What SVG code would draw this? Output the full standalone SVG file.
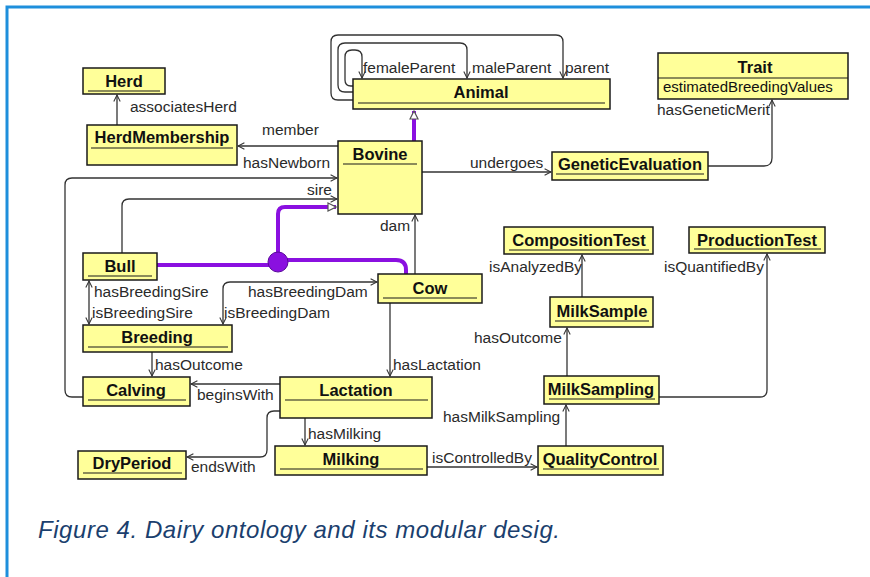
<svg xmlns="http://www.w3.org/2000/svg" width="870" height="577" viewBox="0 0 870 577">
<defs>
<style>
.box{fill:#ffff99;stroke:#1a1a1a;stroke-width:1.5}
.ul{stroke:#1a1a1a;stroke-width:1.2}
.t{font-family:"Liberation Sans",Arial,sans-serif;font-weight:bold;font-size:16.5px;fill:#111;text-anchor:middle}
.a{font-family:"Liberation Sans",Arial,sans-serif;font-size:15px;fill:#111}
.lb{font-family:"Liberation Sans",Arial,sans-serif;font-size:15.5px;fill:#2a2a2a}
.c{fill:none;stroke:#333;stroke-width:1.3;marker-end:url(#open)}
.c2{fill:none;stroke:#333;stroke-width:1.3;marker-end:url(#open);marker-start:url(#open)}
.p{fill:none;stroke:#8a10e0;stroke-width:4}
.pi{fill:none;stroke:#8a10e0;stroke-width:4;marker-end:url(#tri)}
</style>
<marker id="open" viewBox="0 0 10 10" refX="9" refY="5" markerWidth="8" markerHeight="8" markerUnits="userSpaceOnUse" orient="auto-start-reverse">
<path d="M1,1 L9,5 L1,9" fill="none" stroke="#333" stroke-width="1.3"/>
</marker>
<marker id="tri" viewBox="0 0 10 10" refX="9" refY="5" markerWidth="10" markerHeight="10" markerUnits="userSpaceOnUse" orient="auto">
<path d="M1,1 L9,5 L1,9 z" fill="#fff" stroke="#555" stroke-width="1.2"/>
</marker>
</defs>
<rect x="0" y="0" width="870" height="577" fill="#fff"/>
<rect x="7" y="7" width="900" height="620" fill="none" stroke="#1e8fdc" stroke-width="3"/>

<g id="connectors">
<path class="c" d="M117,125 L117,95"/>
<path class="c" d="M338,146 L238,146"/>
<path class="c" d="M83,397 L72,397 Q65,397 65,390 L65,185 Q65,178 72,178 L337,178"/>
<path class="c" d="M122,253 L122,206 Q122,199 129,199 L337,199"/>
<path class="c" d="M422,172 L551,172"/>
<path class="c" d="M708,166 L764,166 Q772,166 772,158 L772,100"/>
<path class="c" d="M415,274 L415,215"/>
<path class="c" d="M390,303 L390,376"/>
<path class="c2" d="M89,281 L89,324"/>
<path class="c2" d="M377,282 L230,282 Q223,282 223,289 L223,324"/>
<path class="c" d="M152,352 L152,376"/>
<path class="c" d="M280,384 L191,384"/>
<path class="c" d="M280,411 L274,411 Q267,411 267,418 L267,450 Q267,457 260,457 L187,457"/>
<path class="c" d="M305,418 L305,445"/>
<path class="c" d="M427,467 L537,467"/>
<path class="c" d="M566,446 L566,405"/>
<path class="c" d="M567,376 L567,328"/>
<path class="c" d="M582,297 L582,255"/>
<path class="c" d="M659,397 L760,397 Q767,397 767,390 L767,254"/>
<path class="c" d="M353,100 L338,100 Q331,100 331,93 L331,42 Q331,35 338,35 L556,35 Q563,35 563,42 L563,78"/>
<path class="c" d="M353,92 L345,92 Q338,92 338,85 L338,50 Q338,43 345,43 L460,43 Q467,43 467,50 L467,78"/>
<path class="c" d="M353,86 L351,86 Q345,86 345,80 L345,57 Q345,50 352,50 L355,50 Q362,50 362,57 L362,78"/>
<path class="pi" d="M414,141 L414,111"/>
<path class="p" d="M157,265 L270,265"/>
<path class="pi" d="M278,255 L278,214 Q278,207 285,207 L336,207"/>
<path class="p" d="M285,260 L396,260 Q406,260 406,270 L406,274"/>
<circle cx="278" cy="262" r="10" fill="#8a10e0" stroke="#5a0a9a" stroke-width="1"/>
<text class="lb" x="130" y="112">associatesHerd</text>
<text class="lb" x="262" y="135">member</text>
<text class="lb" x="243" y="168">hasNewborn</text>
<text class="lb" x="307" y="195">sire</text>
<text class="lb" x="380" y="231">dam</text>
<text class="lb" x="470" y="168">undergoes</text>
<text class="lb" x="657" y="115">hasGeneticMerit</text>
<text class="lb" x="363" y="73">femaleParent</text>
<text class="lb" x="472" y="73">maleParent</text>
<text class="lb" x="565" y="73">parent</text>
<text class="lb" x="94" y="297">hasBreedingSire</text>
<text class="lb" x="92" y="318">isBreedingSire</text>
<text class="lb" x="248" y="297">hasBreedingDam</text>
<text class="lb" x="224" y="318">isBreedingDam</text>
<text class="lb" x="155" y="370">hasOutcome</text>
<text class="lb" x="197" y="400">beginsWith</text>
<text class="lb" x="191" y="472">endsWith</text>
<text class="lb" x="393" y="370">hasLactation</text>
<text class="lb" x="308" y="439">hasMilking</text>
<text class="lb" x="432" y="463">isControlledBy</text>
<text class="lb" x="443" y="422">hasMilkSampling</text>
<text class="lb" x="474" y="343">hasOutcome</text>
<text class="lb" x="489" y="272">isAnalyzedBy</text>
<text class="lb" x="664" y="272">isQuantifiedBy</text>
</g>

<g id="Herd"><rect class="box" x="83" y="68" width="82" height="26"/><text class="t" x="124" y="87">Herd</text><line class="ul" x1="88" y1="91" x2="160" y2="91"/></g>
<g id="HerdMembership"><rect class="box" x="87" y="125" width="150" height="40"/><text class="t" x="162" y="143">HerdMembership</text><line class="ul" x1="91" y1="148" x2="233" y2="148"/></g>
<g id="Animal"><rect class="box" x="353" y="79" width="257" height="30"/><text class="t" x="481" y="98">Animal</text><line class="ul" x1="358" y1="103" x2="605" y2="103"/></g>
<g id="Trait"><rect class="box" x="658" y="53" width="190" height="46"/><text class="t" x="755" y="73">Trait</text><line class="ul" x1="658" y1="78" x2="848" y2="78"/><text class="a" x="663" y="92">estimatedBreedingValues</text></g>
<g id="Bovine"><rect class="box" x="338" y="141" width="84" height="73"/><text class="t" x="380" y="160">Bovine</text><line class="ul" x1="343" y1="164" x2="417" y2="164"/></g>
<g id="GeneticEvaluation"><rect class="box" x="552" y="152" width="156" height="28"/><text class="t" x="630" y="170">GeneticEvaluation</text><line class="ul" x1="556" y1="174" x2="704" y2="174"/></g>
<g id="Bull"><rect class="box" x="83" y="253" width="74" height="27"/><text class="t" x="120" y="272">Bull</text><line class="ul" x1="88" y1="276" x2="152" y2="276"/></g>
<g id="Cow"><rect class="box" x="378" y="274" width="104" height="29"/><text class="t" x="430" y="294">Cow</text><line class="ul" x1="383" y1="298" x2="477" y2="298"/></g>
<g id="Breeding"><rect class="box" x="83" y="325" width="149" height="27"/><text class="t" x="157" y="343">Breeding</text><line class="ul" x1="88" y1="347" x2="228" y2="347"/></g>
<g id="Calving"><rect class="box" x="83" y="377" width="107" height="29"/><text class="t" x="136" y="396">Calving</text><line class="ul" x1="88" y1="400" x2="186" y2="400"/></g>
<g id="Lactation"><rect class="box" x="280" y="377" width="152" height="41"/><text class="t" x="356" y="396">Lactation</text><line class="ul" x1="285" y1="400" x2="428" y2="400"/></g>
<g id="DryPeriod"><rect class="box" x="78" y="451" width="108" height="28"/><text class="t" x="132" y="469">DryPeriod</text><line class="ul" x1="83" y1="473" x2="182" y2="473"/></g>
<g id="Milking"><rect class="box" x="275" y="446" width="152" height="29"/><text class="t" x="351" y="465">Milking</text><line class="ul" x1="280" y1="469" x2="423" y2="469"/></g>
<g id="CompositionTest"><rect class="box" x="504" y="227" width="149" height="27"/><text class="t" x="579" y="246">CompositionTest</text><line class="ul" x1="509" y1="250" x2="649" y2="250"/></g>
<g id="ProductionTest"><rect class="box" x="689" y="227" width="136" height="26"/><text class="t" x="757" y="246">ProductionTest</text><line class="ul" x1="694" y1="249" x2="821" y2="249"/></g>
<g id="MilkSample"><rect class="box" x="550" y="297" width="103" height="30"/><text class="t" x="602" y="317">MilkSample</text><line class="ul" x1="555" y1="321" x2="649" y2="321"/></g>
<g id="MilkSampling"><rect class="box" x="544" y="376" width="115" height="28"/><text class="t" x="601" y="395">MilkSampling</text><line class="ul" x1="549" y1="399" x2="655" y2="399"/></g>
<g id="QualityControl"><rect class="box" x="538" y="446" width="125" height="29"/><text class="t" x="600" y="465">QualityControl</text><line class="ul" x1="543" y1="469" x2="659" y2="469"/></g>

<text x="38" y="538" font-family="'Liberation Sans',Arial,sans-serif" font-style="italic" font-size="24" textLength="522" fill="#1b3f6e">Figure 4. Dairy ontology and its modular desig.</text>
</svg>
